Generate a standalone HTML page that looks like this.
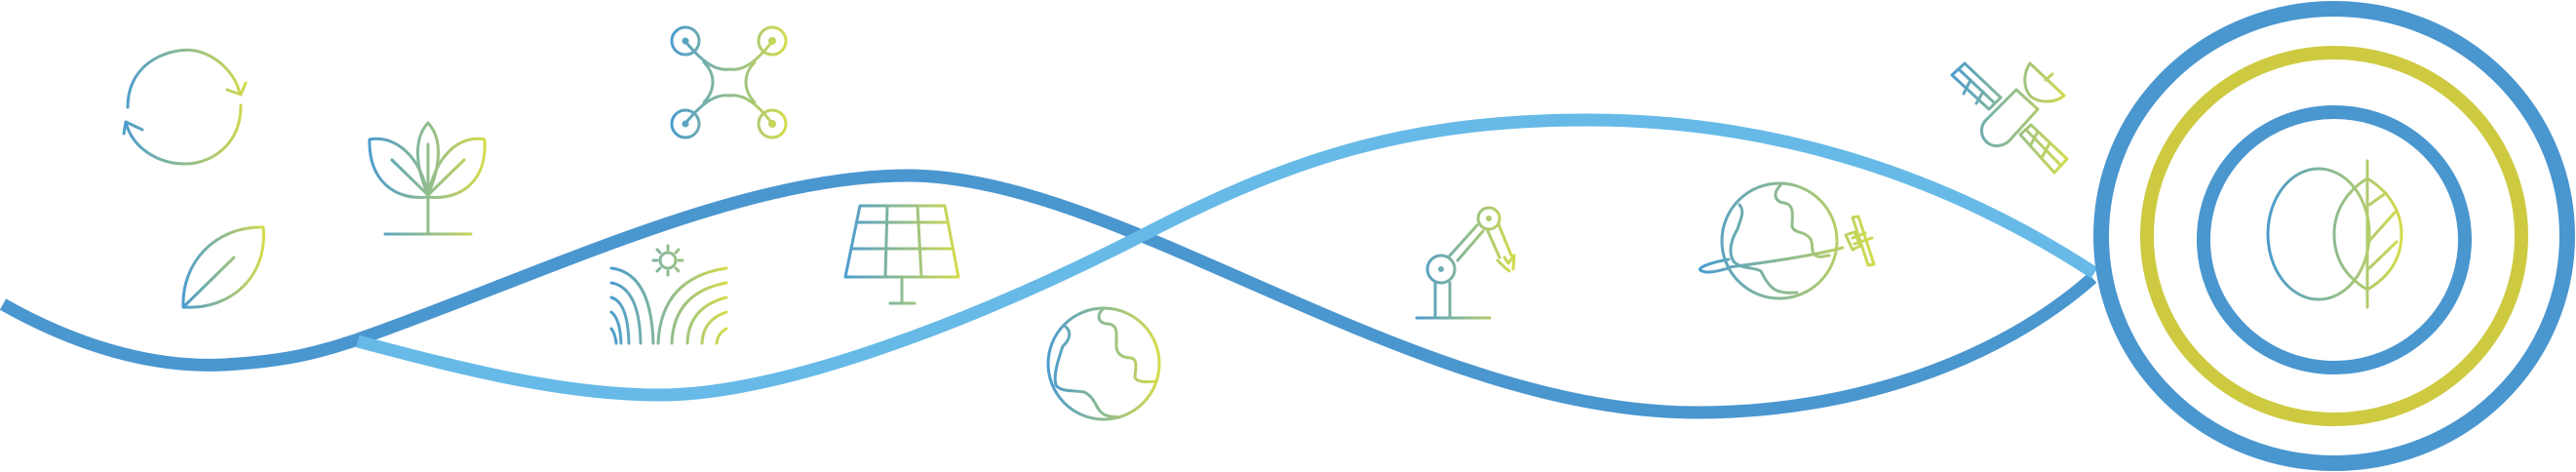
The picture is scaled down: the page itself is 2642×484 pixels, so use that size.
<!DOCTYPE html>
<html><head><meta charset="utf-8"><style>
html,body{margin:0;padding:0;background:#fff;width:2642px;height:484px;overflow:hidden}
svg{display:block}
</style></head><body>
<svg width="2642" height="484" viewBox="0 0 2642 484" xmlns="http://www.w3.org/2000/svg">
<defs>
<linearGradient id="g1" gradientUnits="userSpaceOnUse" x1="125" y1="0" x2="255" y2="0"><stop offset="0" stop-color="#4a9bd0"/><stop offset=".5" stop-color="#8fbc8f"/><stop offset="1" stop-color="#d6dc4a"/></linearGradient>
<linearGradient id="g2" gradientUnits="userSpaceOnUse" x1="186" y1="0" x2="272" y2="0"><stop offset="0" stop-color="#4a9bd0"/><stop offset=".5" stop-color="#8fbc8f"/><stop offset="1" stop-color="#d6dc4a"/></linearGradient>
<linearGradient id="g3" gradientUnits="userSpaceOnUse" x1="378" y1="0" x2="498" y2="0"><stop offset="0" stop-color="#4a9bd0"/><stop offset=".5" stop-color="#8fbc8f"/><stop offset="1" stop-color="#d6dc4a"/></linearGradient>
<linearGradient id="g4" gradientUnits="userSpaceOnUse" x1="688" y1="0" x2="808" y2="0"><stop offset="0" stop-color="#4a9bd0"/><stop offset=".5" stop-color="#8fbc8f"/><stop offset="1" stop-color="#d6dc4a"/></linearGradient>
<linearGradient id="g5" gradientUnits="userSpaceOnUse" x1="625" y1="0" x2="747" y2="0"><stop offset="0" stop-color="#4a9bd0"/><stop offset=".5" stop-color="#8fbc8f"/><stop offset="1" stop-color="#d6dc4a"/></linearGradient>
<linearGradient id="g6" gradientUnits="userSpaceOnUse" x1="866" y1="0" x2="985" y2="0"><stop offset="0" stop-color="#4a9bd0"/><stop offset=".5" stop-color="#8fbc8f"/><stop offset="1" stop-color="#d6dc4a"/></linearGradient>
<linearGradient id="g7" gradientUnits="userSpaceOnUse" x1="1074" y1="0" x2="1190" y2="0"><stop offset="0" stop-color="#4a9bd0"/><stop offset=".5" stop-color="#8fbc8f"/><stop offset="1" stop-color="#d6dc4a"/></linearGradient>
<linearGradient id="g8" gradientUnits="userSpaceOnUse" x1="1452" y1="0" x2="1556" y2="0"><stop offset="0" stop-color="#4a9bd0"/><stop offset=".5" stop-color="#8fbc8f"/><stop offset="1" stop-color="#d6dc4a"/></linearGradient>
<linearGradient id="g9" gradientUnits="userSpaceOnUse" x1="1742" y1="0" x2="1925" y2="0"><stop offset="0" stop-color="#4a9bd0"/><stop offset=".5" stop-color="#8fbc8f"/><stop offset="1" stop-color="#d6dc4a"/></linearGradient>
<linearGradient id="g10" gradientUnits="userSpaceOnUse" x1="2000" y1="0" x2="2122" y2="0"><stop offset="0" stop-color="#4a9bd0"/><stop offset=".5" stop-color="#8fbc8f"/><stop offset="1" stop-color="#d6dc4a"/></linearGradient>
<linearGradient id="g11" gradientUnits="userSpaceOnUse" x1="2325" y1="0" x2="2465" y2="0"><stop offset="0" stop-color="#4a9bd0"/><stop offset=".5" stop-color="#8fbc8f"/><stop offset="1" stop-color="#d6dc4a"/></linearGradient>
</defs>

<!-- waves -->
<path d="M3,312 C70,350 150,378 230,374 C300,370 330,360 367,348 C560,280 760,180 931,180 C1150,180 1450,423 1741,423 C1900,423 2050,370 2146,285" fill="none" stroke="#4a96cf" stroke-width="13"/>
<path d="M367,350 C480,380 580,405 677,405 C800,405 1000,330 1180,237 C1330,160 1450,123 1629,123 C1800,123 1980,170 2148,280" fill="none" stroke="#67bae7" stroke-width="13"/>

<!-- rings -->
<ellipse cx="2394" cy="242" rx="239" ry="233" fill="none" stroke="#4a96cf" stroke-width="16"/>
<ellipse cx="2394" cy="242" rx="192" ry="188" fill="none" stroke="#cdca42" stroke-width="14"/>
<ellipse cx="2394" cy="246" rx="134" ry="131" fill="none" stroke="#4a96cf" stroke-width="14"/>

<g fill="none" stroke-width="3" stroke-linecap="round" stroke-linejoin="round">
<!-- recycle -->
<g stroke="url(#g1)">
<path d="M131,110 C131,60 180,48 200,52 C225,57 242,78 246,96"/>
<path d="M233,92 L247,97 L252,85"/>
<path d="M247,108 C247,150 215,168 190,168 C160,168 135,150 129,125"/>
<path d="M127,137 L129,125 L146,133"/>
</g>
<!-- leaf -->
<g stroke="url(#g2)">
<path d="M188,315 C186,270 220,232 270,233 C275,280 240,318 188,315 Z"/>
<path d="M190,313 L240,264"/>
</g>
<!-- plant -->
<g stroke="url(#g3)">
<path d="M395,240 H483"/>
<path d="M439,240 V148"/>
<path d="M439,126 C426,140 424,165 439,200 C454,165 452,140 439,126 Z"/>
<path d="M379,143 C405,138 432,160 439,202 C405,206 378,185 379,143 Z"/>
<path d="M497,143 C471,138 446,160 439,202 C473,206 500,185 497,143 Z"/>
<path d="M402,164 L439,200 M476,164 L439,200"/>
</g>
<!-- drone -->
<g stroke="url(#g4)">
<circle cx="703" cy="42" r="14"/><circle cx="792" cy="42" r="14"/>
<circle cx="703" cy="127" r="14"/><circle cx="792" cy="127" r="14"/>
<circle cx="703" cy="42" r="2" fill="#4a9bd0"/><circle cx="792" cy="42" r="2.5" fill="#d6dc4a"/>
<circle cx="703" cy="127" r="2" fill="#4a9bd0"/><circle cx="792" cy="127" r="2.5" fill="#d6dc4a"/>
<path d="M705,45 C722,65 735,73 748,71 C761,73 774,65 790,45"/>
<path d="M705,124 C722,104 735,96 748,98 C761,96 774,104 790,124"/>
<path d="M722,64 C734,76 734,92 722,105"/>
<path d="M774,64 C762,76 762,92 774,105"/>
</g>
<!-- field / sun -->
<g stroke="url(#g5)">
<circle cx="685" cy="267" r="8"/>
<path d="M685,252 V256 M685,278 V282 M670,267 H674 M696,267 H700 M674,256 L677,259 M693,275 L696,278 M696,256 L693,259 M674,278 L677,275"/>
<path d="M627,275 Q668,280 670,352"/>
<path d="M627,290 Q656,295 657,352"/>
<path d="M627,305 Q644,310 645,352"/>
<path d="M627,320 Q636,327 637,352"/>
<path d="M627,337 Q631,342 632,352"/>
<path d="M745,275 Q678,285 675,352"/>
<path d="M745,290 Q691,300 689,352"/>
<path d="M745,305 Q706,315 705,352"/>
<path d="M745,320 Q721,328 720,352"/>
<path d="M745,337 Q736,342 735,352"/>
</g>
<!-- solar panel -->
<g stroke="url(#g6)">
<path d="M882,211 H969 L983,284 H867 Z"/>
<path d="M879,228 H972 M874,255 H977 M910,211 L908,284 M941,211 L945,284"/>
<path d="M925,284 V311 M913,311 H938"/>
</g>
<!-- globe 1 -->
<g stroke="url(#g7)">
<circle cx="1132" cy="373" r="57"/>
<path d="M1131,317 C1124,324 1127,332 1136,332 C1147,333 1145,342 1145,352 C1144,362 1150,367 1160,367 C1168,369 1164,380 1164,387 C1166,392 1175,392 1186,391"/>
<path d="M1093,335 C1100,341 1096,350 1090,355 C1085,370 1080,385 1083,395 C1088,402 1100,400 1112,402 C1124,408 1124,420 1131,424 C1136,428 1143,427 1148,428"/>
</g>
<!-- robot arm -->
<g stroke="url(#g8)">
<path d="M1453,326 H1528"/>
<path d="M1472,290 V326 M1487,290 V326"/>
<circle cx="1478" cy="276" r="14"/>
<circle cx="1478" cy="276" r="1.5" fill="#6aa8b5"/>
<circle cx="1527" cy="224" r="11"/>
<circle cx="1527" cy="224" r="1.5" fill="#b7c96a"/>
<path d="M1487,262 L1515,231 M1495,267 L1521,237"/>
<path d="M1525,235 L1538,264 M1537,230 L1550,262"/>
<path d="M1536,267 L1543,274 L1548,278 M1543,264 L1547,270 L1553,262 L1552,276"/>
</g>
<!-- globe 2 with satellite -->
<g stroke="url(#g9)">
<circle cx="1825" cy="247" r="59"/>
<path d="M1826,190 C1818,198 1820,207 1830,208 C1841,210 1838,222 1838,232 C1840,240 1850,236 1857,245 C1860,252 1857,258 1862,262 C1867,265 1872,262 1876,262"/>
<path d="M1784,210 C1790,217 1785,225 1782,235 C1776,245 1772,258 1778,268 C1785,276 1800,274 1806,278 C1812,290 1818,298 1826,299 C1832,301 1838,300 1843,300"/>
<path d="M1773,274 C1820,268 1860,262 1890,254"/>
<path d="M1773,266 C1750,270 1738,276 1746,278 C1752,281 1765,277 1773,275"/>
<path d="M1893,241 L1900,256 L1908,252 L1902,238 Z"/>
<path d="M1900,244 L1913,239 M1902,250 L1920,244"/>
<path d="M1900,223 L1906,222 L1922,271 L1916,272 Z"/>
</g>
<!-- big satellite -->
<g stroke="url(#g10)">
<path d="M2002,77 L2015,65 L2052,100 L2040,112 Z"/>
<path d="M2009,71 L2046,106 M2021,82 L2014,96 M2034,94 L2027,106"/>
<path d="M2068,92 L2090,112 L2062,143 C2056,150 2045,152 2038,146 C2031,140 2031,130 2036,124 Z"/>
<path d="M2072,138 L2083,128 L2120,163 L2107,177 Z"/>
<path d="M2078,133 L2114,170 M2090,135 L2083,148 M2102,147 L2095,160"/>
<path d="M2082,65 L2117,98 C2108,106 2090,106 2082,98 C2075,90 2075,75 2082,65 Z"/>
<path d="M2098,82 L2105,76"/>
</g>
<!-- center icon -->
<g stroke="url(#g11)">
<ellipse cx="2378" cy="240" rx="52" ry="67"/>
<path d="M2428,165 V315"/>
<path d="M2428,183 C2448,195 2463,215 2463,240 C2463,268 2448,285 2428,297"/>
<path d="M2428,183 C2408,195 2394,215 2394,240 C2394,268 2408,285 2428,297"/>
<path d="M2430,210 L2447,198 M2430,247 L2456,218 M2430,275 L2458,248"/>
</g>
</g>
</svg>
</body></html>
